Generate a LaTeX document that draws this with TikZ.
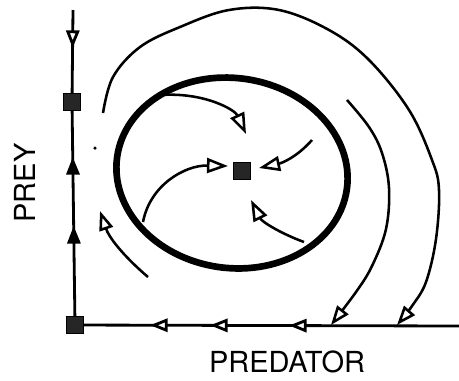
\documentclass[tikz,border=0pt]{standalone}
\usepackage{fontspec}
\setsansfont{TeX Gyre Heros}
\usetikzlibrary{arrows.meta,decorations.markings}

\begin{document}
\begin{tikzpicture}[
  x=0.02cm, y=-0.02cm,
  fixpt/.style={draw=black, fill=black!85, minimum size=0.34cm, inner sep=0pt, line width=0.6pt},
  axis/.style={line width=1.6pt, postaction={decorate}},
  flow/.style={line width=1.45pt, -{Triangle[fill=white, length=11pt, width=8pt]}},
  flowin/.style={line width=1.45pt, -{Triangle[fill=white, length=12pt, width=8.5pt]}},
  limcycle/.style={line width=3.8pt},
  lbl/.style={font=\sffamily\fontsize{16.5}{18}\selectfont, inner sep=0pt},
]
\useasboundingbox (0,0) rectangle (459,380);

\node[fixpt] (origin) at (75,325) {};
\node[fixpt] (preyeq) at (72,102) {};
\node[fixpt] (coex) at (242,171) {};
\coordinate (ytop) at (73,10);
\coordinate (xend) at (459,326);

% axes
\draw[axis, decoration={markings,
    mark=at position 0.76cm with {\arrow{Triangle[fill=white, length=10pt, width=7.5pt]}}}]
  (ytop) -- (preyeq);
\draw[axis, decoration={markings,
    mark=at position 1.8cm with {\arrow{Triangle[length=10pt, width=7.5pt]}},
    mark=at position 3.18cm with {\arrow{Triangle[length=10pt, width=7.5pt]}}}]
  (origin) -- (preyeq);
\draw[axis, decoration={markings,
    mark=at position 3.4cm with {\arrow{Triangle[fill=white, length=10pt, width=7.5pt]}},
    mark=at position 4.98cm with {\arrow{Triangle[fill=white, length=10pt, width=7.5pt]}},
    mark=at position 6.18cm with {\arrow{Triangle[fill=white, length=10pt, width=7.5pt]}}}]
  (xend) -- (origin);

% limit cycle
\draw[limcycle, rotate around={-8:(232,173)}] (232,173) ellipse [x radius=2.32cm, y radius=1.9cm];

% trajectories outside
\draw[flow] plot[smooth, tension=0.6] coordinates {(103,113) (113,77) (140,47) (180,27) (229,10)
  (279,10) (329,30) (369,60) (409,110) (432,160) (439,190) (436,239) (426,282) (412,306) (397,325)};
\draw[flow] plot[smooth, tension=0.6] coordinates {(347,100) (369,127) (382,153) (389,188)
  (386,229) (372,266) (356,292) (331,325)};
\draw[flow] (148,277) .. controls (128,260) and (110,240) .. (100,211);

% trajectories inside
\draw[flowin] (160,95) .. controls (205,92) and (235,110) .. (246,134);
\draw[flowin] (312,140) .. controls (297,157) and (282,163) .. (259,168);
\draw[flowin] (143,222) .. controls (150,185) and (185,165) .. (228,166);
\draw[flowin] (304,242) .. controls (282,234) and (262,222) .. (251,200);

\fill (95,148) circle (1pt);

\node[lbl, rotate=90] (preylbl) at (25,183) {PREY};
\node[lbl] (predlbl) at (287,362) {PREDATOR};

\end{tikzpicture}
\end{document}
